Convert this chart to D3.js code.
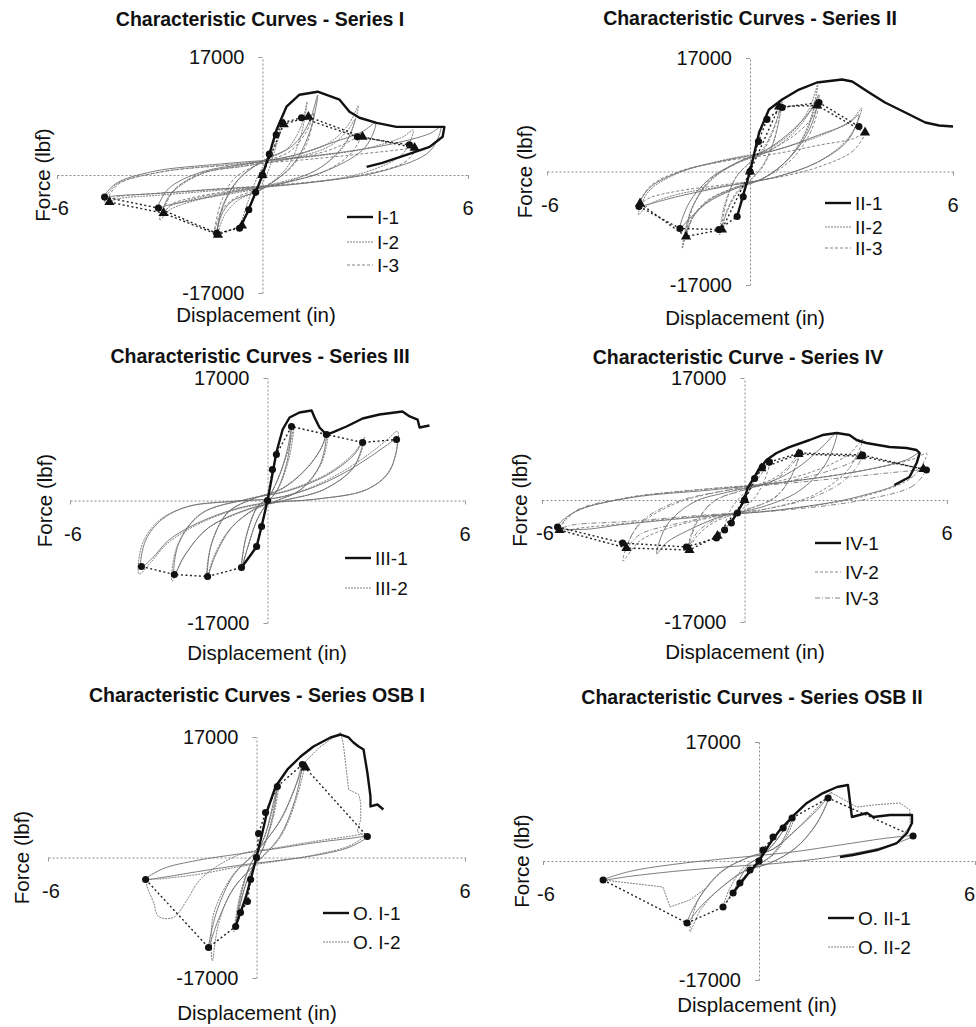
<!DOCTYPE html>
<html>
<head>
<meta charset="utf-8">
<script src="https://cdn.jsdelivr.net/npm/d3@7"></script>
<style>
  body { margin: 0; background: #fff; }
  svg text { font-family: "Liberation Sans", Arial, sans-serif; fill: #111; }
</style>
</head>
<body>
<svg id="chart" width="976" height="1027"></svg>
<script>
// shared axis range (displacement in, force lbf)
var xTicks = [-6, 6];
var yTicks = [-17000, 17000];

var titles = [
  "Characteristic Curves - Series I",
  "Characteristic Curves - Series II",
  "Characteristic Curves - Series III",
  "Characteristic Curve - Series IV",
  "Characteristic Curves - Series OSB I",
  "Characteristic Curves - Series OSB II"
];
var legendNames = [
  ["I-1", "I-2", "I-3"],
  ["II-1", "II-2", "II-3"],
  ["III-1", "III-2"],
  ["IV-1", "IV-2", "IV-3"],
  ["O. I-1", "O. I-2"],
  ["O. II-1", "O. II-2"]
];

// ---- Series I ----
var s1Black = [[-0.67,-7670],[-0.45,-5500],[-0.2,-2500],[0,0],[0.2,3000],[0.41,6510],[0.70,9840],[1.08,11570],[1.61,12000],[2.25,10850],[2.54,9110],[2.83,8250],[3.33,7520],[3.91,6940],[4.38,6940],[4.88,6940],[5.31,6940],[5.26,5500],[4.88,4050],[4.20,2890],[3.50,1740],[3.04,1160]];
var s1Loops1 = [
  [[1.61,11500],[1.4,6500],[0.9,1600],[0,-2000],[-0.9,-3800],[-1.2,-5800],[-1.34,-8390],[-1.15,-4300],[-0.7,-600],[0,2000],[0.9,4300],[1.35,7500]],
  [[3.3,7500],[3.0,4000],[2.0,900],[0.6,-1200],[-0.9,-2500],[-2.0,-3600],[-2.8,-4400],[-3.04,-4770],[-2.75,-2000],[-1.8,400],[-0.5,1600],[0.9,2800],[2.0,4600],[2.9,6200]],
  [[5.2,6900],[4.9,3500],[3.6,700],[1.2,-1200],[-1.2,-2000],[-3.2,-2700],[-4.3,-3000],[-4.61,-3180],[-4.3,-1300],[-3.2,500],[-1.2,1600],[1.2,2600],[3.6,4300],[4.9,6000]]
];
var s1Loops2 = [
  [[0.6,7800],[0.4,4200],[0.1,-200],[-0.3,-3600],[-0.65,-7600],[-0.45,-4200],[-0.1,200],[0.3,3600]],
  [[1.3,10500],[1.1,5300],[0.7,1000],[0,-2000],[-0.7,-3600],[-1.1,-5700],[-1.35,-9000],[-1.15,-4600],[-0.7,-700],[0,2000],[0.7,3700],[1.1,6700]],
  [[2.8,10000],[2.5,5300],[1.7,1100],[0.5,-1300],[-0.8,-2600],[-1.9,-3600],[-2.7,-5000],[-3.0,-6500],[-2.7,-2900],[-1.8,100],[-0.5,1500],[0.8,2700],[1.9,4500],[2.5,7200]],
  [[2.7,8000],[2.4,4300],[1.6,800],[0.4,-1200],[-0.8,-2300],[-1.9,-3300],[-2.7,-4500],[-2.95,-5800],[-2.65,-2500],[-1.8,200],[-0.5,1300],[0.8,2400],[1.9,4000],[2.45,6200]],
  [[4.4,6500],[4.1,3100],[3.0,400],[1.0,-1300],[-1.0,-2100],[-3.0,-2900],[-4.2,-3400],[-4.6,-4000],[-4.3,-1500],[-3.0,400],[-1.0,1500],[1.0,2400],[3.0,3800],[4.1,5500]]
];
var s1Loops3 = [
  [[1.5,9000],[1.3,4600],[0.8,900],[0,-1800],[-0.8,-3300],[-1.2,-5200],[-1.4,-8000],[-1.2,-3800],[-0.8,-400],[0,1800],[0.8,3400],[1.3,6400]],
  [[2.9,6000],[2.6,3200],[1.8,500],[0.5,-1200],[-0.8,-2200],[-1.9,-3100],[-2.65,-4200],[-2.9,-5500],[-2.6,-2300],[-1.8,200],[-0.5,1300],[0.8,2300],[1.9,3500],[2.6,5000]],
  [[4.5,4200],[4.2,2000],[3.0,100],[1.0,-1200],[-1.0,-1900],[-3.0,-2600],[-4.2,-3100],[-4.5,-3500],[-4.2,-1300],[-3.0,400],[-1.0,1400],[1.0,2100],[3.0,3100],[4.2,3800]]
];
var s1EnvCirc = [[-4.61,-3180],[-3.04,-4770],[-1.34,-8390],[-0.67,-7670],[-0.4,-5000],[-0.2,-2500],[0,0],[0.2,3000],[0.4,5800],[0.58,7520],[1.14,8250],[2.77,5500],[4.29,4340]];
var s1EnvTri = [[-4.47,-3910],[-2.89,-5500],[-1.30,-8600],[-0.6,-7300],[0,0],[0.62,7300],[1.34,8390],[2.92,5500],[4.44,3910]];

// ---- Series II ----
var s2Black = [[-0.38,-6740],[-0.2,-3500],[0,0],[0.27,5840],[0.56,9290],[0.95,10780],[1.45,12280],[1.98,13330],[2.72,13780],[3.02,13480],[3.52,11830],[3.99,10340],[4.59,8840],[5.18,7340],[5.59,6890],[6.0,6740]];
var s2Loops1 = [
  [[2.04,11500],[1.8,6800],[1.2,2200],[0.4,-1000],[-0.5,-2700],[-1.3,-4800],[-1.85,-7400],[-2.07,-8540],[-1.8,-4700],[-1.2,-1100],[-0.4,1300],[0.5,3300],[1.3,6400],[1.8,9200]],
  [[3.22,8500],[2.9,4700],[2.0,1400],[0.7,-900],[-0.8,-2300],[-2.1,-3700],[-3.0,-4900],[-3.28,-5240],[-3.0,-2600],[-2.1,-100],[-0.8,1600],[0.7,3100],[2.0,5400],[2.9,7200]]
];
var s2Loops2 = [
  [[0.95,10500],[0.75,5300],[0.4,1100],[0,-1400],[-0.4,-3400],[-0.7,-6300],[-0.9,-9500],[-0.75,-5000],[-0.4,-800],[0,1400],[0.4,3500],[0.75,7200]],
  [[2.0,13000],[1.75,7300],[1.2,2300],[0.4,-1000],[-0.5,-2600],[-1.3,-4700],[-1.75,-7500],[-2.0,-11500],[-1.75,-5900],[-1.2,-1500],[-0.4,1300],[0.5,3200],[1.3,6200],[1.75,9400]],
  [[1.95,10800],[1.7,6300],[1.15,2000],[0.4,-1000],[-0.5,-2500],[-1.25,-4400],[-1.7,-6800],[-1.95,-10000],[-1.7,-5300],[-1.15,-1300],[-0.4,1200],[0.5,2900],[1.25,5600],[1.7,8400]],
  [[3.3,9500],[2.95,5300],[2.1,1700],[0.8,-800],[-0.8,-2200],[-2.2,-3500],[-3.0,-5000],[-3.3,-6500],[-3.0,-3000],[-2.1,-200],[-0.8,1700],[0.8,3300],[2.2,5600],[3.0,7700]]
];
var s2Loops3 = [
  [[0.9,9600],[0.72,4800],[0.4,900],[0,-1300],[-0.4,-3100],[-0.68,-5800],[-0.85,-8700],[-0.7,-4600],[-0.4,-700],[0,1300],[0.4,3200],[0.72,6500]],
  [[2.05,10300],[1.8,6000],[1.25,1900],[0.4,-1000],[-0.5,-2500],[-1.25,-4300],[-1.68,-6800],[-1.9,-9700],[-1.68,-5200],[-1.2,-1300],[-0.4,1200],[0.5,3000],[1.25,5200],[1.8,7800]],
  [[3.4,5800],[3.05,3100],[2.1,800],[0.8,-900],[-0.8,-2000],[-2.1,-2900],[-2.95,-3900],[-3.25,-4800],[-2.95,-2200],[-2.1,0],[-0.8,1500],[0.8,2700],[2.1,4000],[3.05,4900]]
];
var s2EnvCirc = [[-3.28,-5240],[-2.07,-8540],[-0.92,-8690],[-0.38,-6740],[-0.2,-3800],[0,0],[0.25,4500],[0.5,7800],[0.95,9590],[2.04,10340],[3.22,6740]];
var s2EnvTri = [[-3.25,-4790],[-1.89,-9740],[-0.83,-8690],[0,0],[0.86,9740],[1.98,9890],[3.40,5840]];

// ---- Series III ----
var s3Black = [[-0.79,-9300],[-0.5,-7500],[-0.33,-6380],[-0.18,-3610],[0,0],[0.12,2910],[0.27,6660],[0.46,9850],[0.67,11520],[0.97,12210],[1.34,12490],[1.43,11520],[1.58,10130],[1.79,9160],[1.98,9440],[2.40,10270],[2.89,11380],[3.40,11930],[4.10,12350],[4.32,11660],[4.56,11240],[4.62,10130],[4.92,10410]];
var s3Loops1 = [
  [[0.73,10270],[0.6,5500],[0.3,1500],[0,-300],[-0.3,-2500],[-0.6,-6500],[-0.79,-9300],[-0.65,-5000],[-0.3,-800],[0,300],[0.3,2800],[0.6,7000]],
  [[1.79,9160],[1.6,5000],[1.0,1500],[0.3,0],[-0.4,-1200],[-1.1,-3800],[-1.6,-7800],[-1.82,-10550],[-1.7,-6000],[-1.2,-1600],[-0.4,300],[0.4,1500],[1.1,4000],[1.6,7000]],
  [[2.89,8050],[2.6,4500],[1.7,1500],[0.5,0],[-0.6,-1200],[-1.8,-3800],[-2.5,-7500],[-2.83,-10270],[-2.7,-6000],[-2.0,-1800],[-0.6,200],[0.6,1300],[1.8,3500],[2.6,6200]],
  [[3.92,8470],[3.7,4000],[3.0,1500],[1.5,200],[0,-300],[-1.0,-1200],[-2.2,-3300],[-3.0,-5500],[-3.5,-8000],[-3.83,-9160],[-3.7,-5500],[-3.2,-2600],[-2.4,-800],[-1.0,-100],[0.2,300],[1.2,1500],[2.2,3500],[3.1,6000],[3.6,7600]]
];
var s3Loops2 = [
  [[0.8,10000],[0.65,5800],[0.32,1600],[0,-300],[-0.32,-2700],[-0.62,-6800],[-0.8,-9600],[-0.66,-5300],[-0.3,-900],[0,300],[0.32,3000],[0.65,7300]],
  [[1.85,9600],[1.65,5300],[1.05,1600],[0.3,0],[-0.4,-1300],[-1.15,-4000],[-1.65,-8000],[-1.85,-11000],[-1.72,-6300],[-1.2,-1700],[-0.4,300],[0.4,1600],[1.15,4300],[1.65,7400]],
  [[2.95,8800],[2.65,4800],[1.75,1600],[0.5,0],[-0.6,-1300],[-1.85,-4000],[-2.55,-7900],[-2.9,-11200],[-2.75,-6400],[-2.05,-1900],[-0.6,200],[0.6,1400],[1.85,3800],[2.65,6700]],
  [[3.95,9600],[3.75,4500],[3.05,1600],[1.5,200],[0,-400],[-1.0,-1300],[-2.2,-3500],[-3.05,-6000],[-3.55,-8600],[-3.9,-10200],[-3.8,-6000],[-3.3,-2800],[-2.45,-900],[-1.0,-100],[0.2,300],[1.2,1600],[2.2,3800],[3.1,6500],[3.65,8500]]
];
var s3EnvCirc = [[-3.83,-9160],[-2.83,-10270],[-1.82,-10550],[-0.79,-9300],[-0.33,-6380],[-0.18,-3610],[0,0],[0.15,4300],[0.27,6380],[0.73,10270],[1.79,9160],[2.89,8050],[3.92,8470]];

// ---- Series IV ----
var s4Black = [[-0.4,-3200],[0,0],[0.09,1670],[0.36,3760],[0.65,5570],[0.95,6550],[1.33,7380],[1.93,8360],[2.31,9050],[2.73,9330],[3.11,9050],[3.32,8360],[3.61,7940],[4.30,7380],[4.80,7240],[5.10,6960],[5.19,6550],[5.10,5150],[4.89,3200],[4.44,2090]];
var s4Loops1 = [
  [[2.73,9330],[2.4,5000],[1.6,1200],[0.5,-1000],[-0.7,-2300],[-1.7,-4300],[-2.3,-5900],[-2.6,-7500],[-2.3,-3500],[-1.5,-300],[-0.5,1100],[0.7,2400],[1.6,4600],[2.3,7400]],
  [[5.19,6550],[4.8,3000],[3.4,500],[1.0,-1400],[-1.2,-2300],[-3.6,-3400],[-4.8,-4100],[-5.54,-3760],[-5.0,-1600],[-3.4,300],[-1.0,1400],[1.2,2500],[3.4,4000],[4.8,5600]]
];
var s4Loops2 = [
  [[0.75,5300],[0.55,2300],[0.25,0],[-0.1,-1400],[-0.4,-2900],[-0.6,-4200],[-0.45,-1700],[-0.15,300],[0.1,1400],[0.45,3300]],
  [[1.65,7000],[1.4,3400],[0.9,400],[0,-1500],[-0.9,-3100],[-1.4,-5000],[-1.7,-7200],[-1.45,-3300],[-0.9,-200],[0,1500],[0.9,3100],[1.4,5200]],
  [[3.5,8500],[3.1,4400],[2.1,800],[0.7,-1200],[-0.7,-2200],[-2.1,-3700],[-3.1,-5700],[-3.6,-8500],[-3.2,-3900],[-2.1,-600],[-0.7,1200],[0.7,2300],[2.1,4100],[3.1,6400]],
  [[5.4,6500],[5.0,3300],[3.6,600],[1.2,-1300],[-1.2,-2200],[-3.6,-3300],[-5.0,-4000],[-5.5,-4500],[-5.1,-1900],[-3.6,200],[-1.2,1500],[1.2,2500],[3.6,4200],[5.0,5700]]
];
var s4Loops3 = [
  [[1.6,6000],[1.35,3000],[0.9,300],[0,-1400],[-0.9,-2800],[-1.4,-4500],[-1.65,-6500],[-1.4,-3000],[-0.9,-100],[0,1400],[0.9,2800],[1.35,4600]],
  [[3.5,6300],[3.1,3300],[2.1,500],[0.7,-1200],[-0.7,-2100],[-2.1,-3400],[-3.1,-4800],[-3.5,-6700],[-3.1,-3200],[-2.1,-400],[-0.7,1200],[0.7,2100],[2.1,3500],[3.1,5100]],
  [[5.35,4200],[5.0,2000],[3.5,0],[1.2,-1400],[-1.2,-2100],[-3.5,-3000],[-5.0,-3400],[-5.45,-3800],[-5.0,-1500],[-3.5,300],[-1.2,1500],[1.2,2300],[3.5,3400],[5.0,4100]]
];
var s4EnvCirc = [[-5.54,-3760],[-3.61,-5990],[-1.72,-6550],[-0.83,-5290],[-0.59,-4180],[-0.39,-3200],[-0.21,-1810],[0,0],[0.3,3000],[0.53,4600],[0.74,5290],[1.63,6550],[3.50,6270],[5.39,4180]];
var s4EnvTri = [[-5.48,-4180],[-3.50,-6690],[-1.63,-6960],[-0.8,-5000],[0,0],[0.5,4400],[1.6,6400],[3.45,6100],[5.3,4300]];

// ---- Series OSB I ----
var s5Black = [[-0.6,-9730],[-0.3,-5500],[0,0],[0.17,3530],[0.32,6770],[0.55,10020],[0.89,12420],[1.27,14250],[1.64,15660],[2.13,16930],[2.42,17350],[2.65,16930],[2.79,16220],[2.94,15660],[3.08,15240],[3.19,11990],[3.28,8610],[3.28,7200],[3.48,7480],[3.65,6770]];
var s5Loops1 = [
  [[0.6,10000],[0.45,5500],[0.2,1500],[0,-500],[-0.25,-3000],[-0.45,-6300],[-0.6,-9700],[-0.45,-5300],[-0.2,-1300],[0,500],[0.25,3200],[0.45,7000]],
  [[1.32,13100],[1.1,8000],[0.65,2800],[0,-700],[-0.65,-4300],[-1.1,-8800],[-1.38,-12700],[-1.15,-7700],[-0.65,-2400],[0,800],[0.65,5000],[1.1,9800]],
  [[3.19,2960],[2.7,1500],[1.7,300],[0.5,-500],[-0.5,-1100],[-1.7,-2000],[-2.7,-2800],[-3.19,-3100],[-2.7,-1600],[-1.7,-400],[-0.5,500],[0.5,1200],[1.7,2100],[2.7,2700]]
];
var s5Loops2 = [
  [[0.65,10500],[0.5,6000],[0.22,1600],[0,-500],[-0.27,-3200],[-0.5,-7000],[-0.65,-10500],[-0.5,-5800],[-0.22,-1400],[0,500],[0.27,3400],[0.5,7500]],
  [[1.4,13500],[1.15,8300],[0.7,3000],[0,-800],[-0.7,-4600],[-1.1,-9500],[-1.27,-14600],[-1.25,-8300],[-0.7,-2600],[0,900],[0.7,5300],[1.15,10300]],
  [[3.15,3300],[2.7,1700],[1.7,400],[0.5,-600],[-0.5,-1300],[-1.7,-2400],[-2.7,-3000],[-3.15,-3300],[-2.95,-6500],[-2.82,-8320],[-2.39,-8460],[-2.0,-6000],[-1.6,-3000],[-0.5,400],[0.5,1300],[1.7,2300],[2.7,3000]]
];
var s5Grey2 = [[1.4,13500],[1.8,15500],[2.2,16900],[2.42,17630],[2.5,15940],[2.65,9590],[2.94,8890],[3.0,7760],[3.0,5360],[2.9,3670],[3.14,2960]];
var s5EnvCirc = [[-3.19,-3100],[-1.38,-12700],[-0.60,-9730],[-0.46,-7760],[-0.26,-6210],[-0.17,-3100],[0,0],[0.06,3390],[0.26,6350],[0.60,10020],[1.32,13120],[3.19,2960]];
var s5EnvTri = [[1.41,12700]];

// ---- Series OSB II ----
var s6Black = [[-0.72,-4570],[-0.3,-1800],[0,0],[0.31,2570],[0.58,4430],[0.92,6290],[1.33,8290],[1.78,9710],[2.17,10570],[2.47,10860],[2.58,6290],[3.00,6860],[3.17,6290],[3.64,6570],[4.25,6570],[4.25,5430],[4.11,4000],[3.83,2570],[3.28,1570],[2.61,860],[2.25,570]];
var s6Loops1 = [
  [[0.92,6140],[0.7,3300],[0.35,800],[0,-500],[-0.35,-2000],[-0.6,-3600],[-0.72,-4570],[-0.55,-2700],[-0.3,-600],[0,500],[0.35,2100],[0.7,4500]],
  [[1.92,9000],[1.6,5300],[1.0,1800],[0.3,-300],[-0.4,-1400],[-1.0,-3600],[-1.6,-6400],[-2.0,-8860],[-1.65,-5200],[-1.0,-1400],[-0.3,500],[0.4,1700],[1.0,4300],[1.6,7200]],
  [[4.28,3570],[3.6,2200],[2.4,900],[0.8,-200],[-0.8,-800],[-2.4,-1500],[-3.6,-2200],[-4.33,-2710],[-3.6,-1500],[-2.4,-500],[-0.8,400],[0.8,1200],[2.4,2400],[3.6,3300]]
];
var s6Loops2 = [
  [[1.0,6600],[0.78,3600],[0.4,900],[0,-500],[-0.4,-2200],[-0.75,-4600],[-1.0,-6600],[-0.8,-3800],[-0.4,-800],[0,500],[0.4,2400],[0.78,5200]],
  [[2.0,9800],[1.65,5800],[1.05,2000],[0.3,-300],[-0.4,-1500],[-1.05,-3800],[-1.6,-6800],[-1.92,-10140],[-1.7,-5700],[-1.05,-1500],[-0.3,500],[0.4,1800],[1.05,4600],[1.65,7800]]
];
var s6Grey2 = [[2.0,9800],[2.72,7710],[3.17,8000],[3.92,8290],[4.19,7290],[4.2,5000],[4.0,3800]];
var s6Grey2Neg = [[-4.33,-2710],[-2.67,-3710],[-2.47,-6570],[-1.92,-5570],[-1.5,-4000]];
var s6EnvCirc = [[-4.33,-2710],[-2.00,-8860],[-1.00,-6570],[-0.72,-4570],[-0.53,-3140],[-0.25,-1290],[0,0],[0.11,1570],[0.39,3430],[0.67,4710],[0.92,6140],[1.92,9000],[4.28,3570]];

// line styles
var styles = {
  black:   {stroke: "#111", width: 2.4, dash: null},
  inner:   {stroke: "#6e6e6e", width: 0.9, dash: null},
  grey:    {stroke: "#808080", width: 1, dash: "2,1"},
  dash:    {stroke: "#858585", width: 1, dash: "3,2"},
  dashdot: {stroke: "#858585", width: 1, dash: "5,2,1,2"}
};

// panel geometry (pixels)
var panels = [
  {x0: 57,  x1: 468, yTop: 57,  yBot: 293, tX: 260, tY: 19,  fX: 43,  dX: 256, dY: 315, legX: 347, legY: [217, 242, 265],
   series: [{style: "black", line: s1Black, loops: s1Loops1}, {style: "grey", loops: s1Loops2}, {style: "dash", loops: s1Loops3}],
   env: [s1EnvCirc, s1EnvTri], extra: []},
  {x0: 547, x1: 953, yTop: 58,  yBot: 285, tX: 750, tY: 18,  fX: 525, dX: 745, dY: 318, legX: 825, legY: [203, 227, 248],
   series: [{style: "black", line: s2Black, loops: s2Loops1}, {style: "grey", loops: s2Loops2}, {style: "dash", loops: s2Loops3}],
   env: [s2EnvCirc, s2EnvTri], extra: []},
  {x0: 70,  x1: 465, yTop: 378, yBot: 623, tX: 260, tY: 356, fX: 45,  dX: 267, dY: 653, legX: 345, legY: [558, 588],
   series: [{style: "black", line: s3Black, loops: s3Loops1}, {style: "grey", loops: s3Loops2}],
   env: [s3EnvCirc], extra: []},
  {x0: 542, x1: 947, yTop: 378, yBot: 622, tX: 738, tY: 357, fX: 520, dX: 745, dY: 652, legX: 815, legY: [543, 572, 598],
   series: [{style: "black", line: s4Black, loops: s4Loops1}, {style: "dash", loops: s4Loops2}, {style: "dashdot", loops: s4Loops3}],
   env: [s4EnvCirc, s4EnvTri], extra: []},
  {x0: 48,  x1: 465, yTop: 737, yBot: 978, tX: 257, tY: 695, fX: 22,  dX: 257, dY: 1013, legX: 323, legY: [913, 942],
   series: [{style: "black", line: s5Black, loops: s5Loops1}, {style: "grey", loops: s5Loops2}],
   env: [s5EnvCirc, s5EnvTri], extra: [{style: "grey", line: s5Grey2}]},
  {x0: 543, x1: 975, yTop: 742, yBot: 980, tX: 752, tY: 697, fX: 522, dX: 757, dY: 1005, legX: 828, legY: [918, 947],
   series: [{style: "black", line: s6Black, loops: s6Loops1}, {style: "grey", loops: s6Loops2}],
   env: [s6EnvCirc], extra: [{style: "grey", line: s6Grey2}, {style: "grey", line: s6Grey2Neg}]}
];

var svg = d3.select("#chart");
var W = +svg.attr("width");

function applyStyle(sel, st) {
  sel.attr("fill", "none")
    .attr("stroke", st.stroke)
    .attr("stroke-width", st.width)
    .attr("stroke-dasharray", st.dash)
    .attr("stroke-linejoin", "round");
}

panels.forEach(function(p, i) {
  var x = d3.scaleLinear().domain(xTicks).range([p.x0, p.x1]);
  var y = d3.scaleLinear().domain(yTicks).range([p.yBot, p.yTop]);
  var g = svg.append("g");

  // axes crossing at the origin
  var xa = g.append("g").attr("transform", "translate(0," + y(0) + ")")
    .call(d3.axisBottom(x).tickValues(xTicks).tickSize(4).tickSizeOuter(0).tickFormat(""));
  var ya = g.append("g").attr("transform", "translate(" + x(0) + ",0)")
    .call(d3.axisLeft(y).tickValues(yTicks).tickSize(4).tickSizeOuter(0).tickFormat(""));
  [xa, ya].forEach(function(a) {
    a.select(".domain").attr("stroke", "#888").attr("stroke-dasharray", "2,2");
    a.selectAll(".tick line").attr("stroke", "#999");
  });

  // tick labels
  g.append("text").attr("x", x(0) - 18).attr("y", y(yTicks[1])).attr("dy", "0.35em")
    .attr("text-anchor", "end").attr("font-size", 20).text(yTicks[1]);
  g.append("text").attr("x", x(0) - 18).attr("y", y(yTicks[0])).attr("dy", "0.35em")
    .attr("text-anchor", "end").attr("font-size", 20).text(yTicks[0]);
  g.append("text").attr("x", x(xTicks[0]) - 6).attr("y", y(0) + 33).attr("dy", "0.35em")
    .attr("text-anchor", "start").attr("font-size", 20).text(xTicks[0]);
  var rightEdge = x(xTicks[1]) + 7 > W;
  g.append("text").attr("x", rightEdge ? W - 1 : x(xTicks[1])).attr("y", y(0) + 33).attr("dy", "0.35em")
    .attr("text-anchor", rightEdge ? "end" : "middle").attr("font-size", 20).text(xTicks[1]);

  // titles
  g.append("text").attr("x", p.tX).attr("y", p.tY).attr("dy", "0.35em")
    .attr("text-anchor", "middle").attr("font-size", 19.5).attr("font-weight", "bold").text(titles[i]);
  g.append("text").attr("x", p.dX).attr("y", p.dY).attr("dy", "0.35em")
    .attr("text-anchor", "middle").attr("font-size", 20.5).text("Displacement (in)");
  g.append("text").attr("transform", "translate(" + p.fX + "," + y(0) + ") rotate(-90)")
    .attr("dy", "0.35em").attr("text-anchor", "middle").attr("font-size", 20.5).text("Force (lbf)");

  var loopPath = d3.line().x(function(d) { return x(d[0]); }).y(function(d) { return y(d[1]); })
    .curve(d3.curveCatmullRomClosed.alpha(0.5));
  var openPath = d3.line().x(function(d) { return x(d[0]); }).y(function(d) { return y(d[1]); });

  // hysteresis loops first (light), backbones last
  p.series.slice().reverse().forEach(function(s) {
    var st = s.style === "black" ? styles.inner : styles[s.style];
    s.loops.forEach(function(lp) {
      g.append("path").attr("d", loopPath(lp)).call(applyStyle, st);
    });
  });
  p.extra.forEach(function(e) {
    g.append("path").attr("d", openPath(e.line)).call(applyStyle, styles[e.style]);
  });

  // envelopes: dotted black with markers
  p.env.forEach(function(env, k) {
    g.append("path").attr("d", openPath(env))
      .call(applyStyle, {stroke: "#222", width: 1.4, dash: "2,2.5"});
    var sym = d3.symbol().type(k === 0 ? d3.symbolCircle : d3.symbolTriangle).size(k === 0 ? 40 : 45);
    g.selectAll(null).data(env).enter().append("path")
      .attr("d", sym)
      .attr("transform", function(d) { return "translate(" + x(d[0]) + "," + y(d[1]) + ")"; })
      .attr("fill", "#111");
  });

  p.series.forEach(function(s) {
    if (s.line) g.append("path").attr("d", openPath(s.line)).call(applyStyle, styles.black);
  });

  // legend
  legendNames[i].forEach(function(name, k) {
    var st = styles[p.series[k].style];
    var ly = p.legY[k];
    g.append("line").attr("x1", p.legX).attr("x2", p.legX + 26).attr("y1", ly).attr("y2", ly)
      .call(applyStyle, st);
    g.append("text").attr("x", p.legX + 30).attr("y", ly).attr("dy", "0.35em")
      .attr("font-size", 19).text(name);
  });
});
</script>
</body>
</html>
